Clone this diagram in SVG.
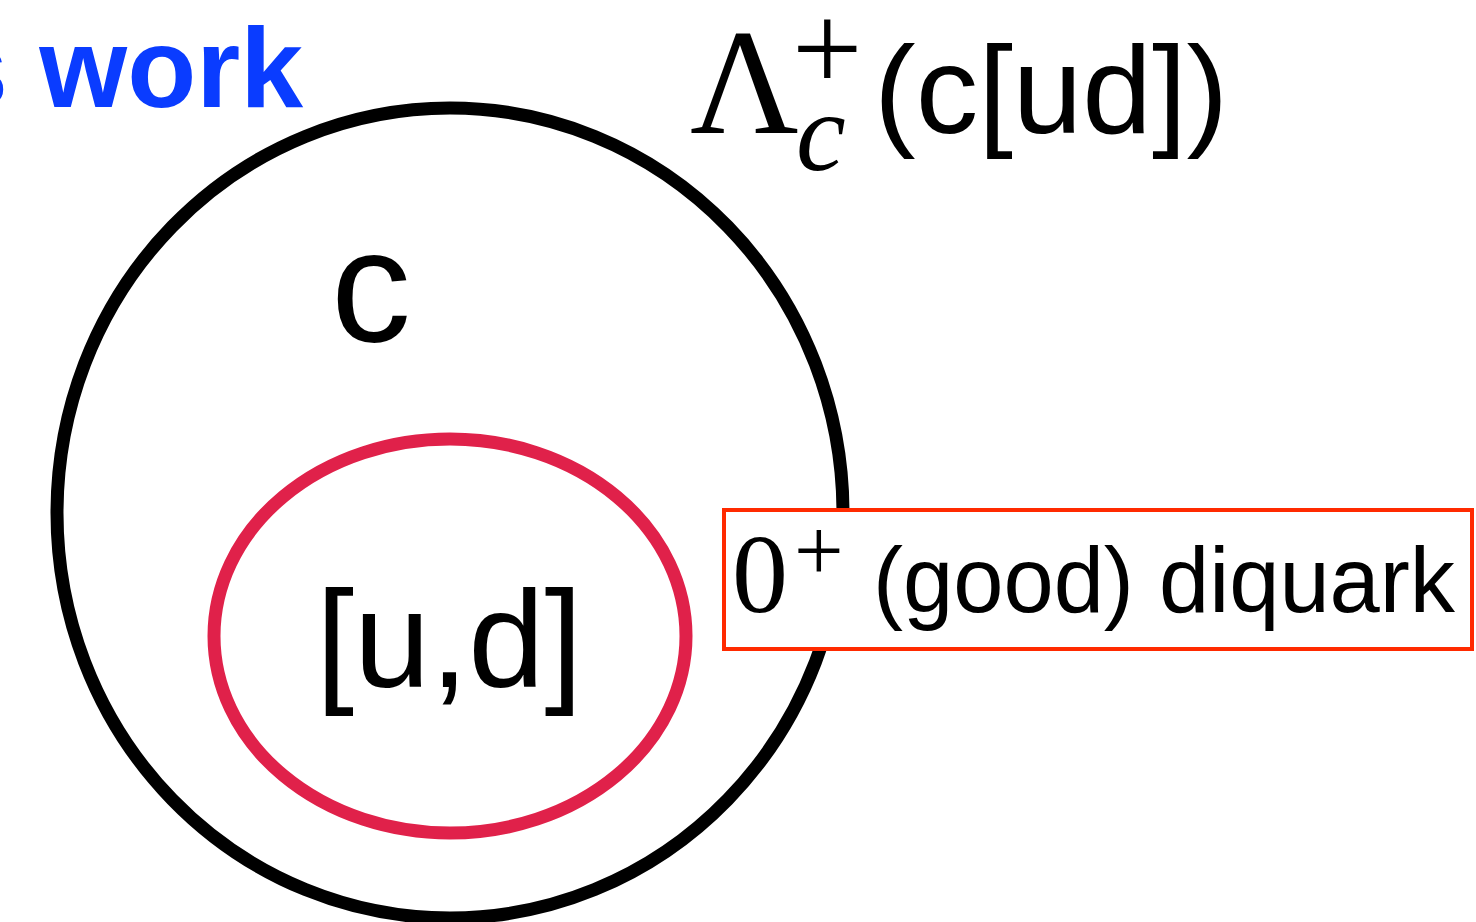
<svg xmlns="http://www.w3.org/2000/svg" width="1476" height="922" viewBox="0 0 1476 922">
<style>
.sans{font-family:"Liberation Sans",Arial,sans-serif;fill:#000}
.serif{font-family:"Liberation Serif","Times New Roman",serif;fill:#000}
</style>
<rect width="1476" height="922" fill="#fff"/>
<text class="sans" x="-55" y="107" font-size="113" font-weight="bold" fill="#0a3cff" style="fill:#0a3cff">s work</text>
<g id="lambda-label">
<text class="serif" x="690" y="133" font-size="150">Λ</text>
<text class="serif" x="792" y="90" font-size="125">+</text>
<text class="serif" x="796" y="170" font-size="112" font-style="italic">c</text>
<text class="sans" x="874" y="133" font-size="125">(c[ud])</text>
</g>
<g id="baryon">
<ellipse cx="450" cy="513" rx="393" ry="405" fill="none" stroke="#000" stroke-width="13"/>
<text class="sans" x="331" y="341" font-size="160">c</text>
</g>
<g id="diquark">
<ellipse cx="450" cy="636" rx="236" ry="197" fill="none" stroke="#e0214a" stroke-width="13"/>
<text class="sans" x="316" y="687" font-size="137">[u,d]</text>
</g>
<g id="label-box">
<rect x="724" y="510" width="748" height="139" fill="#fff" stroke="#ff2a00" stroke-width="4"/>
<text class="serif" x="732" y="612" font-size="112">0</text>
<text class="serif" x="794" y="580" font-size="88">+</text>
<text class="sans" x="873" y="612" font-size="92" textLength="582" lengthAdjust="spacingAndGlyphs">(good) diquark</text>
</g>
</svg>
